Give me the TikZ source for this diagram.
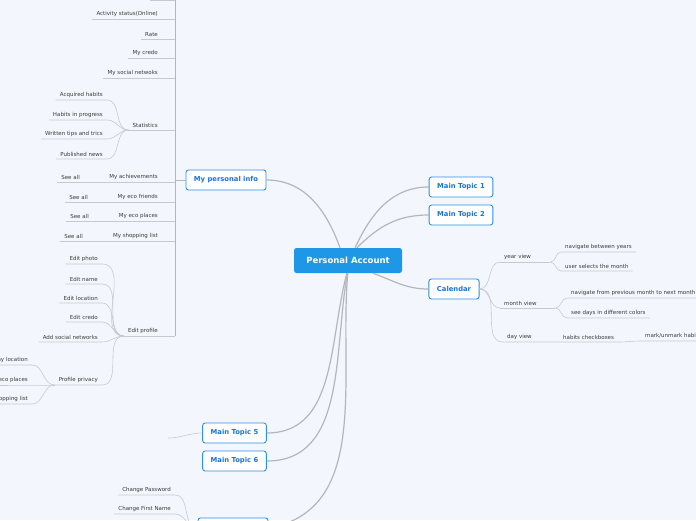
\documentclass[tikz,border=0pt]{standalone}
\usepackage{fontspec}
\setmainfont{DejaVu Sans}
\usepackage{xcolor}
\usepackage{tikz}
\usetikzlibrary{positioning, calc}
\definecolor{bgblue}{HTML}{F3F6FD}
\definecolor{rootblue}{HTML}{1E98E6}
\definecolor{topicblue}{HTML}{2E8EEA}
\definecolor{topictext}{HTML}{1B74D6}
\definecolor{leaftext}{HTML}{3A3A3A}
\definecolor{branchgray}{HTML}{B4B6BA}
\definecolor{twiggray}{HTML}{C6C9CF}

\begin{document}
\begin{tikzpicture}[x=1pt, y=-1pt, >=stealth]
    \tikzset{
        root/.style={rectangle, fill=rootblue, rounded corners=2.5pt, minimum width=108pt, minimum height=25pt, text=white, font=\fontsize{8.5}{10}\selectfont\bfseries},
        topic/.style={rectangle, draw=topicblue, line width=0.9pt, fill=white, rounded corners=2.5pt, minimum height=20pt, inner xsep=8pt, text=topictext, font=\fontsize{6.8}{8}\selectfont\bfseries},
        leaf/.style={inner xsep=4pt, inner ysep=2.5pt, text=leaftext, font=\fontsize{5.5}{6.5}\selectfont},
        branch/.style={draw=branchgray, line width=1.2pt},
        spine/.style={draw=branchgray, line width=0.8pt},
        twig/.style={draw=twiggray, line width=0.6pt},
        curvy/.style={out=0, in=180}
    }
    \useasboundingbox (0,0) rectangle (696,520);
    \clip (0,0) rectangle (696,520);
    \fill [bgblue] (0,0) rectangle (696,520);

    \node (Center) [root] at (348,260.5) {Personal Account};
    \node (Info) [topic] at (226,180) {My personal info};
    \node (TopicA) [topic] at (461,187) {Main Topic 1};
    \node (TopicB) [topic] at (461,215) {Main Topic 2};
    \node (Calendar) [topic] at (454,289) {Calendar};
    \node (TopicE) [topic] at (234.5,433) {Main Topic 5};
    \node (TopicF) [topic] at (234.5,461) {Main Topic 6};
    \node (Account) [topic, minimum width=70pt] at (233,528) {};
    \coordinate (TopicETail) at (168,438);

    \path [branch] (Center.122) to[out=110, in=0] (Info.east);
    \path [branch] (Center.61) to[out=65, in=180] (TopicA.west);
    \path [branch] (Center.55) to[out=45, in=180] (TopicB.west);
    \path [branch] (Center.-27) to[out=-20, in=180] (Calendar.west);
    \path [branch] (Center.-95) to[out=-105, in=0] (TopicE.east);
    \path [branch] (Center.-93) to[out=-100, in=0] (TopicF.east);
    \path [branch] (Center.-91) to[out=-95, in=10] (Account.east);
    \path [twig] (TopicE.west) to[out=180, in=0] (TopicETail);

    % personal info
    \coordinate (SpineTop) at (175,-5);
    \coordinate (TopStub) at (150,0);
    \node (Activity) [leaf, anchor=south east] at (162,19) {Activity status(Online)};
    \node (Rate) [leaf, anchor=south east] at (162,39) {Rate};
    \node (Credo) [leaf, anchor=south east] at (162,58) {My credo};
    \node (Social) [leaf, anchor=south east] at (162,78) {My social netwoks};
    \node (Stats) [leaf, anchor=south east] at (162,130) {Statistics};
    \node (Achieve) [leaf, anchor=south east] at (162,182) {My achievements};
    \node (SeeAllA) [leaf, anchor=south east] at (84,182) {See all};
    \node (Friends) [leaf, anchor=south east] at (162,202) {My eco friends};
    \node (SeeAllB) [leaf, anchor=south east] at (92,202) {See all};
    \node (Places) [leaf, anchor=south east] at (162,221) {My eco places};
    \node (SeeAllC) [leaf, anchor=south east] at (93,221) {See all};
    \node (Shopping) [leaf, anchor=south east] at (162,241) {My shopping list};
    \node (SeeAllD) [leaf, anchor=south east] at (87,241) {See all};
    \node (EditProfile) [leaf, anchor=south east] at (162,336) {Edit profile};

    \path [spine] (SpineTop) -- (EditProfile.south west -| SpineTop);
    \path [spine] (Info.west) -- (Info.west -| SpineTop);
    \path [twig] (TopStub) -- (TopStub -| SpineTop);
    \foreach \n in {Activity, Rate, Credo, Social, Stats, SeeAllA, SeeAllB, SeeAllC, SeeAllD, EditProfile}
        \path [twig] (\n.south west) -- (\n.south west -| SpineTop);

    \node (Acquired) [leaf, anchor=south east] at (107,100) {Acquired habits};
    \node (Progress) [leaf, anchor=south east] at (107,120) {Habits in progress};
    \node (Tips) [leaf, anchor=south east] at (107,139) {Written tips and trics};
    \node (News) [leaf, anchor=south east] at (107,159) {Published news};

    \node (Photo) [leaf, anchor=south east] at (102,264) {Edit photo};
    \node (Name) [leaf, anchor=south east] at (102,284) {Edit name};
    \node (Location) [leaf, anchor=south east] at (102,303) {Edit location};
    \node (EditCredo) [leaf, anchor=south east] at (102,322) {Edit credo};
    \node (Networks) [leaf, anchor=south east] at (102,342) {Add social networks};
    \node (Privacy) [leaf, anchor=south east] at (102,385) {Profile privacy};

    \node (ShowLocation) [leaf, anchor=south east] at (32,365) {my location};
    \node (ShowPlaces) [leaf, anchor=south east] at (32,385) {my eco places};
    \node (ShowShopping) [leaf, anchor=south east] at (32,404) {shopping list};

    \foreach \n in {Acquired, Progress, Tips, News}
        \path [twig] (\n.south west) -- (\n.south east) to[curvy] (Stats.south west);
    \foreach \n in {Photo, Name, Location, EditCredo, Networks, Privacy}
        \path [twig] (\n.south west) -- (\n.south east) to[curvy] (EditProfile.south west);
    \foreach \n in {ShowLocation, ShowPlaces, ShowShopping}
        \path [twig] (\n.south west) -- (\n.south east) to[curvy] (Privacy.south west);

    % calendar
    \node (YearView) [leaf, anchor=south west, text width=42pt] at (500,262) {year view};
    \node (MonthView) [leaf, anchor=south west, text width=47pt] at (500,308) {month view};
    \node (DayView) [leaf, anchor=south west] at (503,342) {day view};
    \node (Checkboxes) [leaf, anchor=south west] at (559,342) {habits checkboxes};
    \node (Mark) [leaf, anchor=south west] at (641,341) {mark/unmark habits};
    \node (Years) [leaf, anchor=south west] at (561,252) {navigate between years};
    \node (SelectMonth) [leaf, anchor=south west] at (561,271) {user selects the month};
    \node (NextMonth) [leaf, anchor=south west] at (567,298) {navigate from previous month to next month};
    \node (Colors) [leaf, anchor=south west] at (567,318) {see days in different colors};

    \foreach \n in {YearView, MonthView, DayView}
        \path [twig] (Calendar.east) to[curvy] (\n.south west);
    \path [twig] (YearView.south west) -- (YearView.south east);
    \path [twig] (MonthView.south west) -- (MonthView.south east);
    \path [twig] (DayView.south west) -- (Checkboxes.south east) to[curvy] (Mark.south west) -- (Mark.south east);
    \foreach \n in {Years, SelectMonth}
        \path [twig] (YearView.south east) to[curvy] (\n.south west) -- (\n.south east);
    \foreach \n in {NextMonth, Colors}
        \path [twig] (MonthView.south east) to[curvy] (\n.south west) -- (\n.south east);

    % account
    \node (Password) [leaf, anchor=south east] at (175,495) {Change Password};
    \node (FirstName) [leaf, anchor=south east] at (175,514) {Change First Name};
    \foreach \n in {Password, FirstName}
        \path [twig] (\n.south west) -- (\n.south east) to[curvy] (Account.west);
\end{tikzpicture}
\end{document}
